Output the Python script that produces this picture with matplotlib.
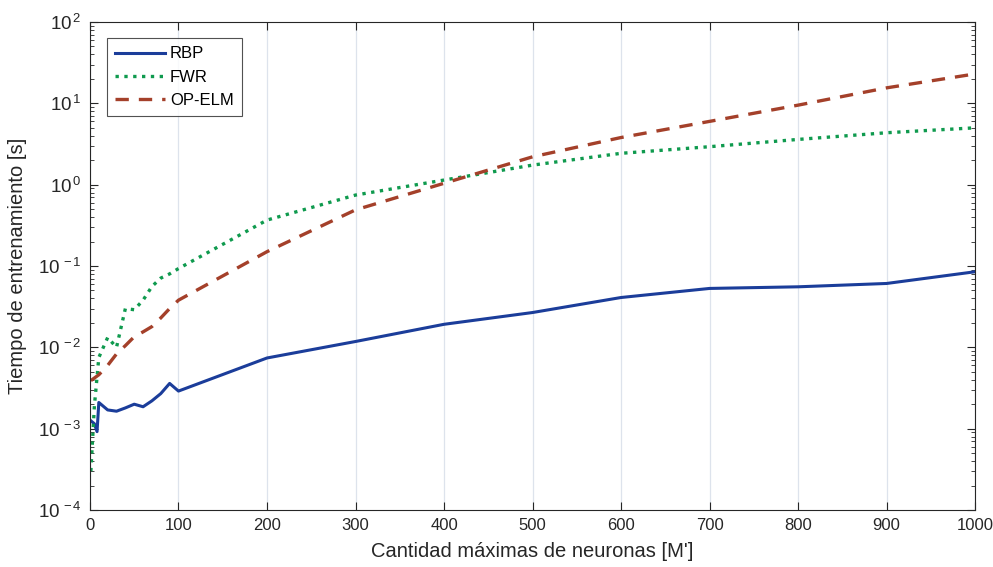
import matplotlib
matplotlib.use("Agg")
import matplotlib.pyplot as plt
from matplotlib.ticker import LogLocator, NullFormatter

plt.rcParams['font.family'] = ['Liberation Sans', 'DejaVu Sans']
plt.rcParams['mathtext.fontset'] = 'custom'
plt.rcParams['mathtext.rm'] = 'Liberation Sans'
plt.rcParams['mathtext.it'] = 'Liberation Sans'

x_rbp = [1, 5, 8, 10, 20, 30, 40, 50, 60, 70, 80, 90, 100, 200, 300, 400, 500, 600, 700, 800, 900, 1000]
rbp = [1.25e-3, 1.15e-3, 0.92e-3, 2.1e-3, 1.7e-3, 1.64e-3, 1.8e-3, 2.0e-3, 1.86e-3, 2.2e-3, 2.7e-3, 3.6e-3, 2.9e-3,
       7.4e-3, 0.0118, 0.0192, 0.0268, 0.041, 0.053, 0.0555, 0.061, 0.085]

x_fwr = [1, 5, 10, 20, 30, 40, 50, 60, 70, 80, 90, 100, 200, 300, 400, 500, 600, 700, 800, 900, 1000]
fwr = [3.0e-4, 1.9e-3, 7.5e-3, 0.0132, 0.0100, 0.030, 0.029, 0.038, 0.056, 0.071, 0.080, 0.093,
       0.367, 0.745, 1.14, 1.74, 2.43, 2.93, 3.6, 4.35, 5.0]

x_op = [1, 10, 20, 30, 40, 50, 60, 70, 80, 90, 100, 200, 300, 400, 500, 600, 700, 800, 900, 1000]
op = [3.9e-3, 4.6e-3, 6.0e-3, 8.3e-3, 0.0105, 0.0135, 0.0155, 0.018, 0.023, 0.030, 0.038,
      0.15, 0.49, 1.04, 2.2, 3.8, 6.0, 9.5, 15.5, 23.0]

xticks = [0, 100, 200, 300, 400, 500, 600, 700, 800, 900, 1000]
yticks = [1e-4, 1e-3, 1e-2, 1e-1, 1e0, 1e1, 1e2]
ytick_labels = [r'$10^{\,-4}$', r'$10^{\,-3}$', r'$10^{\,-2}$', r'$10^{\,-1}$', r'$10^{\,0}$', r'$10^{\,1}$', r'$10^{\,2}$']

fig = plt.figure(figsize=(9.93, 5.67), dpi=100)
ax = fig.add_axes([0.0906, 0.1005, 0.8914, 0.8607])

ax.semilogy(x_rbp, rbp, '-', color='#1b3d9a', lw=2.2, label='RBP')
ax.semilogy(x_fwr, fwr, ':', color='#0f9a4e', lw=2.4, label='FWR')
ax.semilogy(x_op, op, '--', color='#a4402a', lw=2.4, dashes=(4, 3), label='OP-ELM')

ax.set_xlim(0, 1000)
ax.set_ylim(1e-4, 1e2)
ax.set_xticks(xticks)
ax.set_yticks(yticks)
ax.set_yticklabels(ytick_labels)
ax.yaxis.set_minor_locator(LogLocator(base=10, subs=range(2, 10), numticks=20))
ax.yaxis.set_minor_formatter(NullFormatter())

ax.grid(True, axis='x', color='#dde3ec', lw=0.9)
ax.tick_params(which='both', direction='in', top=True, right=True, colors='#262626')
ax.tick_params(axis='x', labelsize=12, pad=6)
ax.tick_params(axis='y', labelsize=13.5, pad=6)
ax.tick_params(which='major', length=6)
ax.tick_params(which='minor', length=3)
for s in ax.spines.values():
    s.set_color('#262626')
    s.set_linewidth(0.8)

ax.set_xlabel("Cantidad máximas de neuronas [M']", fontsize=14.5, color='#262626', labelpad=6)
ax.set_ylabel("Tiempo de entrenamiento [s]", fontsize=14.5, color='#262626', labelpad=8)

leg = ax.legend(loc='upper left', bbox_to_anchor=(0.019, 0.967), fontsize=12, frameon=True,
                fancybox=False, edgecolor='#262626', handlelength=3.0, handletextpad=0.3,
                borderpad=0.5, labelspacing=0.5, borderaxespad=0)
leg.get_frame().set_linewidth(0.8)

fig.savefig('out.png', dpi=100)
